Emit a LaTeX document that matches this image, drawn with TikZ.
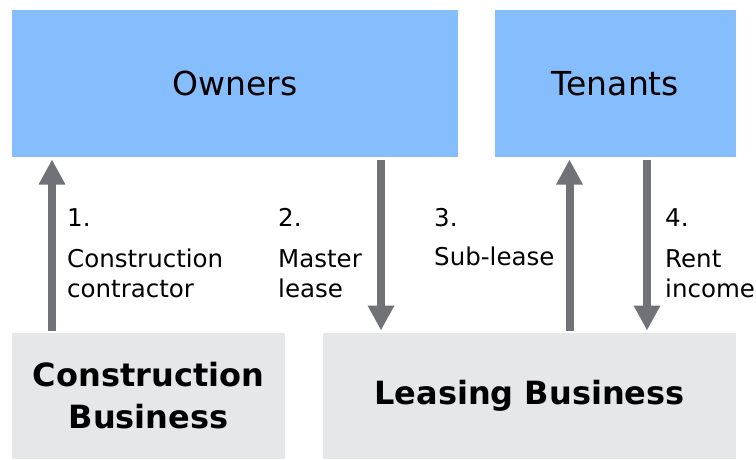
\documentclass[tikz,border=0pt]{standalone}
\usepackage{fontspec}
\setmainfont{DejaVu Sans}
\usetikzlibrary{arrows.meta}

\definecolor{partyblue}{RGB}{134,189,252}
\definecolor{bizgray}{RGB}{230,231,233}
\definecolor{flowgray}{RGB}{112,114,119}

\begin{document}
\begin{tikzpicture}[x=1pt,y=-1pt,
        party/.style={rectangle,fill=partyblue,minimum height=147pt,
            inner sep=0pt,outer sep=2.5pt,font=\fontsize{33}{40}\selectfont},
        biz/.style={rectangle,fill=bizgray,minimum height=126pt,align=center,
            inner sep=0pt,outer sep=2.5pt,font=\bfseries\fontsize{32}{42}\selectfont},
        flow/.style={draw=flowgray,line width=8pt,
            -{Triangle[width=25pt,length=25pt]}},
        lbl/.style={anchor=base west,align=left,inner sep=0pt,
            font=\fontsize{24.5}{30}\selectfont}]
\useasboundingbox (0,0) rectangle (756,459);

% the two parties on top
\node[party,minimum width=446pt] (owners) at (235,83.5) {Owners};
\node[party,minimum width=241pt] (tenants) at (615.5,83.5) {Tenants};

% the two businesses below
\node[biz,minimum width=273pt] (cons) at (148.5,396) {Construction\\Business};
\node[biz,minimum width=413pt] (leasing) at (529.5,396) {Leasing Business};

% flows between them
\draw[flow] (cons.north -| 52,0) -- (owners.south -| 52,0);
\draw[flow] (owners.south -| 381,0) -- (leasing.north -| 381,0);
\draw[flow] (leasing.north -| 569.5,0) -- (tenants.south -| 569.5,0);
\draw[flow] (tenants.south -| 647,0) -- (leasing.north -| 647,0);

% step labels (base of a two-line node is its last line)
\node[lbl] (n1) at (67,226) {1.};
\node[lbl] (t1) at (67,297) {Construction\\contractor};
\node[lbl] (n2) at (278,226) {2.};
\node[lbl] (t2) at (278,297) {Master\\lease};
\node[lbl] (n3) at (434,226) {3.};
\node[lbl] (t3) at (434,265) {Sub-lease};
\node[lbl] (n4) at (665,226) {4.};
\node[lbl] (t4) at (665,297) {Rent\\income};
\end{tikzpicture}
\end{document}
